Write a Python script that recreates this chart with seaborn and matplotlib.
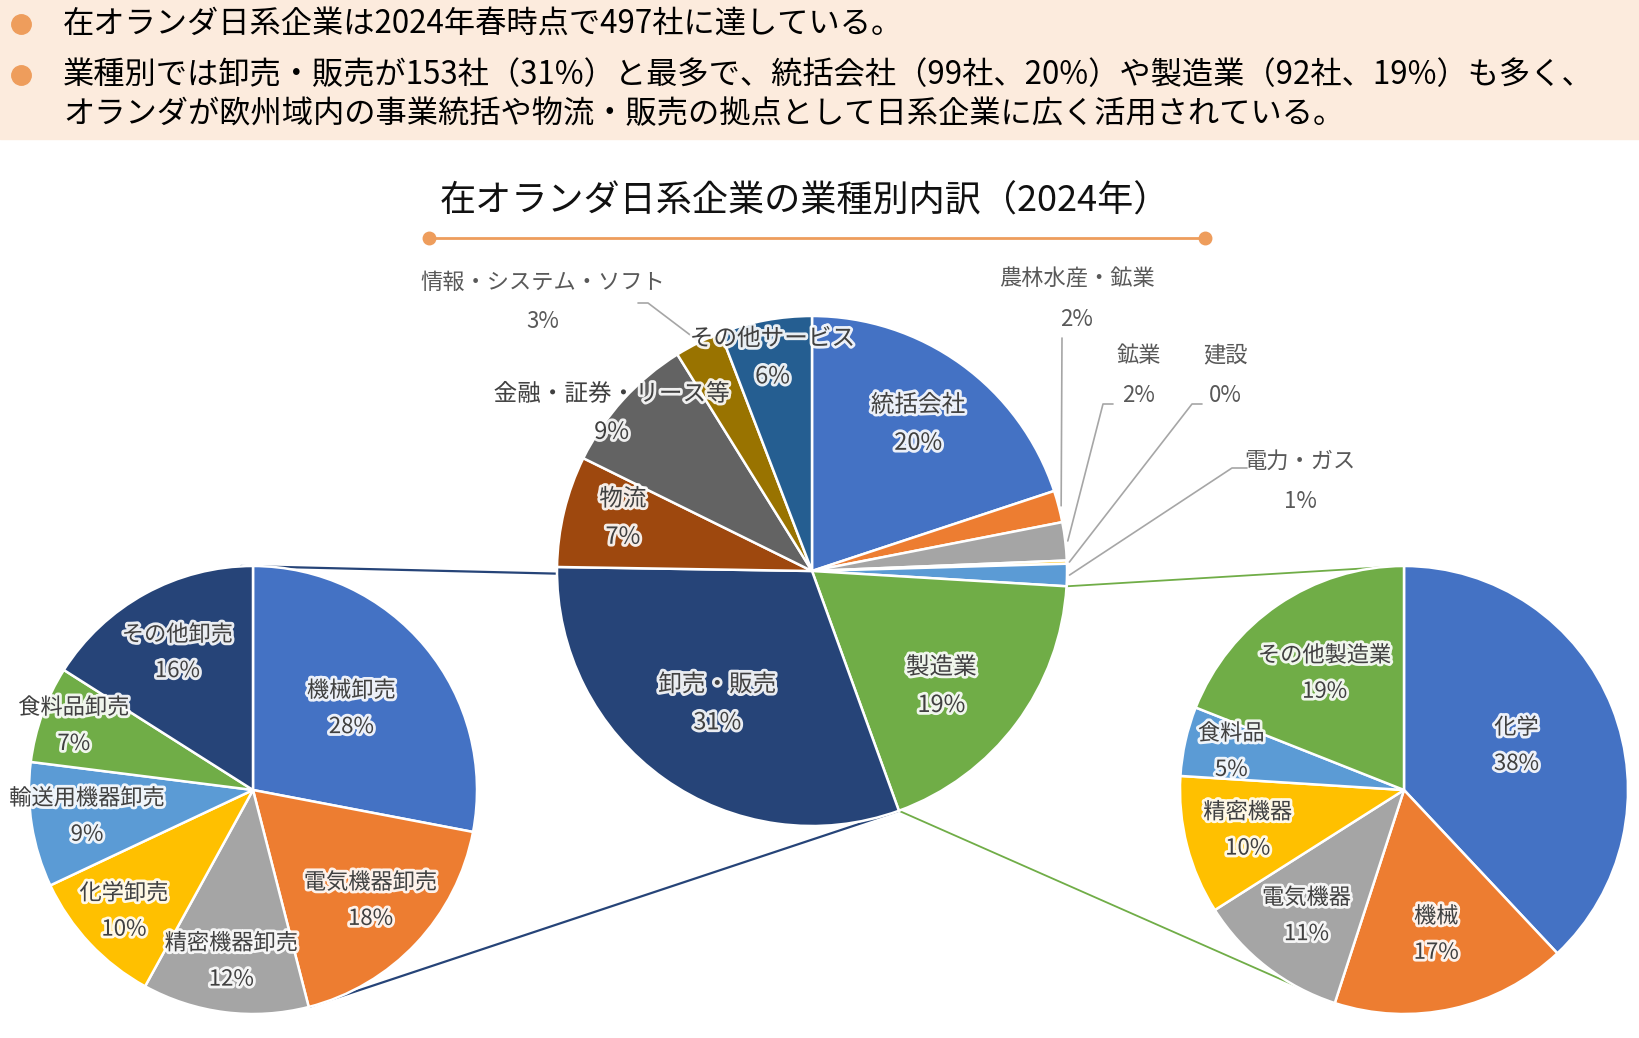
import matplotlib
matplotlib.use("Agg")
import numpy as np
import matplotlib.pyplot as plt
import matplotlib.patheffects as pe
from matplotlib.patches import Rectangle
import seaborn as sns

## Data
total_companies = 497
main_labels = ['統括会社', '農林水産・鉱業', '鉱業', '建設', '電力・ガス', '製造業',
               '卸売・販売', '物流', '金融・証券・リース等', '情報・システム・ソフト', 'その他サービス']
main_counts = [99, 10, 12, 1, 7, 92, 153, 35, 44, 15, 29]

wholesale_labels = ['機械卸売', '電気機器卸売', '精密機器卸売', '化学卸売',
                    '輸送用機器卸売', '食料品卸売', 'その他卸売']
wholesale_pct = [28, 18, 12, 10, 9, 7, 16]

mfg_labels = ['化学', '機械', '電気機器', '精密機器', '食料品', 'その他製造業']
mfg_pct = [38, 17, 11, 10, 5, 19]

header_lines = ['在オランダ日系企業は2024年春時点で497社に達している。',
                '業種別では卸売・販売が153社（31%）と最多で、統括会社（99社、20%）や製造業（92社、19%）も多く、',
                'オランダが欧州域内の事業統括や物流・販売の拠点として日系企業に広く活用されている。']
title = '在オランダ日系企業の業種別内訳（2024年）'

## Style
sns.set_theme(style='white')
plt.rcParams['font.family'] = ['Noto Sans CJK JP', 'DejaVu Sans']

main_colors = sns.color_palette(['#4472C4', '#ED7D31', '#A5A5A5', '#FFC000', '#5B9BD5', '#70AD47',
                                 '#264478', '#9E480E', '#636363', '#997300', '#255E91'])
sub_colors = sns.color_palette(['#4472C4', '#ED7D31', '#A5A5A5', '#FFC000', '#5B9BD5', '#70AD47', '#264478'])

W, H = 1640, 1038
fig = plt.figure(figsize=(W / 100, H / 100), dpi=100)
ax = fig.add_axes([0, 0, 1, 1])

def Y(y):
    return H - y

glow = [pe.withStroke(linewidth=4, foreground='white', alpha=0.9)]
wedge_kw = dict(edgecolor='white', linewidth=1.8)

## header band
ax.add_patch(Rectangle((0, Y(139)), W, 139, color='#FCEBDD', zorder=0))
for yy in [24, 75]:
    ax.plot(21, Y(yy), 'o', ms=14, color='#EE9D5C', zorder=2)
for txt, yy in zip(header_lines, [24, 75, 114]):
    ax.text(63, Y(yy), txt, fontsize=22.5, ha='left', va='center', color='black')

## title
ax.text(805, Y(202), title, fontsize=26, ha='center', va='center', color='#111111')
ax.plot([429, 1205], [Y(238), Y(238)], color='#EE9D5C', lw=2)
ax.plot([429, 1205], [Y(238), Y(238)], 'o', ms=9, color='#EE9D5C')

## pies
main_c, main_r = (812, Y(571)), 255
left_c, left_r = (253, Y(790)), 224
right_c, right_r = (1404, Y(790)), 224

def polar(c, r, ang):
    a = np.deg2rad(ang)
    return c[0] + r * np.cos(a), c[1] + r * np.sin(a)

main_w, _ = ax.pie(main_counts, colors=main_colors, startangle=90, counterclock=False,
                   center=main_c, radius=main_r, wedgeprops=wedge_kw, frame=True)
left_w, _ = ax.pie(wholesale_pct, colors=sub_colors, startangle=90, counterclock=False,
                   center=left_c, radius=left_r, wedgeprops=wedge_kw, frame=True)
right_w, _ = ax.pie(mfg_pct, colors=sub_colors, startangle=90, counterclock=False,
                    center=right_c, radius=right_r, wedgeprops=wedge_kw, frame=True)

main_pct = [round(c / total_companies * 100) for c in main_counts]

def inner_label(w, c, r, frac, name, pct, gap=19, size=16, shift=0):
    mid = (w.theta1 + w.theta2) / 2 + shift
    x, y = polar(c, r * frac, mid)
    for t, dy in [(name, gap), (f'{pct}%', -gap)]:
        ax.text(x, y + dy, t, fontsize=size, ha='center', va='center', color='#404040',
                path_effects=glow, zorder=5)

# labels inside main pie: (radius fraction, angle shift)
main_pos = {0: (0.71, 0), 5: (0.68, -5), 6: (0.64, 0), 7: (0.77, -2), 8: (1.0, 4), 10: (0.85, 0)}
for i, (f, s) in main_pos.items():
    inner_label(main_w[i], main_c, main_r, f, main_labels[i], main_pct[i], size=17, shift=s)

# outer labels with leader lines
outer = {9: ((543, 282), [(638, 303), (648, 303)]),
         1: ((1077, 279), [(1062, 338)]),
         2: ((1139, 355), [(1113, 404), (1103, 404)]),
         3: ((1225, 355), [(1202, 404), (1192, 404)]),
         4: ((1300, 461), [(1247, 468), (1232, 468)])}
for i, (pos, path) in outer.items():
    ax.text(pos[0], Y(pos[1]), main_labels[i], fontsize=16, ha='center', va='center', color='#595959')
    ax.text(pos[0], Y(pos[1] + 40), f'{main_pct[i]}%', fontsize=16, ha='center', va='center', color='#595959')
    w = main_w[i]
    ex, ey = polar(main_c, main_r * 1.01, (w.theta1 + w.theta2) / 2)
    xs = [p[0] for p in path] + [ex]
    ys = [Y(p[1]) for p in path] + [ey]
    ax.plot(xs, ys, color='#A6A6A6', lw=1.2, zorder=4)

# labels inside sub pies
left_frac = [0.57, 0.72, 0.77, 0.79, 0.75, 0.85, 0.70]
for w, f, n, p in zip(left_w, left_frac, wholesale_labels, wholesale_pct):
    inner_label(w, left_c, left_r, f, n, p, gap=18)

right_frac = [0.54, 0.66, 0.71, 0.72, 0.79, 0.63]
for w, f, n, p in zip(right_w, right_frac, mfg_labels, mfg_pct):
    inner_label(w, right_c, right_r, f, n, p, gap=18)

## connector lines
ws, mf = main_w[6], main_w[5]
p_top_ws = polar(main_c, main_r, ws.theta1 + 1.5)
p_split = polar(main_c, main_r, ws.theta2)
p_top_mf = polar(main_c, main_r, mf.theta2)

lt = polar(left_c, left_r, 90)
lb = polar(left_c, left_r, left_w[1].theta1)
rt = polar(right_c, right_r, 90)
rb = polar(right_c, right_r, right_w[1].theta1)

ax.plot([p_top_ws[0], lt[0] - 12], [p_top_ws[1], lt[1]], color='#264478', lw=1.6, zorder=0.5)
ax.plot([p_split[0], lb[0]], [p_split[1], lb[1]], color='#264478', lw=1.6, zorder=0.5)
ax.plot([p_top_mf[0], rt[0]], [p_top_mf[1], rt[1]], color='#70AD47', lw=1.3, zorder=0.5)
ax.plot([p_split[0], rb[0]], [p_split[1], rb[1]], color='#70AD47', lw=1.3, zorder=0.5)

ax.set_xlim(0, W)
ax.set_ylim(0, H)
ax.set_aspect('auto')
ax.axis('off')
fig.savefig('out.png', dpi=100, facecolor='white')
